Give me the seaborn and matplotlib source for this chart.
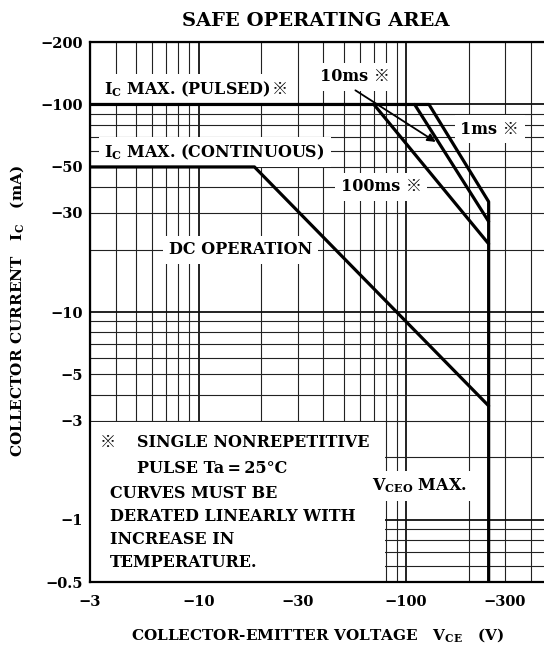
import numpy as np
import pandas as pd
import matplotlib
matplotlib.use('Agg')
import matplotlib.pyplot as plt
import matplotlib.ticker as mticker
from matplotlib.patches import Rectangle
import seaborn as sns

# SOA boundaries, magnitudes only (V in volts, I in mA)
v_1ms = [3, 129, 250, 250]
i_1ms = [100, 100, 34, 0.5]
v_10ms = [110, 250]
i_10ms = [100, 27.3]
v_100ms = [70, 250]
i_100ms = [100, 21.3]
v_dc = [3, 18.6, 250]
i_dc = [50, 50, 3.53]

x_ticks = [3, 10, 30, 100, 300]
y_ticks = [0.5, 1, 3, 5, 10, 30, 50, 100, 200]

note_lines = ['CURVES MUST BE', 'DERATED LINEARLY WITH', 'INCREASE IN', 'TEMPERATURE.']

# long table for seaborn
df = pd.concat([
    pd.DataFrame({'v': v_1ms, 'i': i_1ms, 'curve': '1ms'}),
    pd.DataFrame({'v': v_10ms, 'i': i_10ms, 'curve': '10ms'}),
    pd.DataFrame({'v': v_100ms, 'i': i_100ms, 'curve': '100ms'}),
    pd.DataFrame({'v': v_dc, 'i': i_dc, 'curve': 'dc'}),
], ignore_index=True)

sns.set_style('white')
plt.rcParams['font.family'] = ['DejaVu Serif', 'Noto Sans CJK JP']
plt.rcParams['font.weight'] = 'bold'
plt.rcParams['mathtext.fontset'] = 'dejavuserif'
plt.rcParams['mathtext.default'] = 'bf'
plt.rcParams['text.color'] = 'black'
plt.rcParams['xtick.color'] = 'black'
plt.rcParams['ytick.color'] = 'black'

W, H = 544, 648
fig = plt.figure(figsize=(W / 100, H / 100), dpi=100)
ax = fig.add_axes([90 / W, 1 - 582 / H, 1 - 90 / W, 540 / H])

sns.lineplot(data=df, x='v', y='i', units='curve', estimator=None, sort=False,
             color='black', lw=2.3, zorder=4, ax=ax, legend=False)

ax.set_xscale('log')
ax.set_yscale('log')
ax.set_xlim(3, 462)
ax.set_ylim(0.5, 200)

for axis in (ax.xaxis, ax.yaxis):
    axis.set_major_locator(mticker.LogLocator(base=10, numticks=10))
    axis.set_minor_locator(mticker.LogLocator(base=10, subs=np.arange(2, 10), numticks=20))

def make_fmt(vals):
    def f(v, pos):
        for t in vals:
            if np.isclose(v, t):
                return '\u2212' + f'{t:g}'
        return ''
    return mticker.FuncFormatter(f)

for axis, vals in ((ax.xaxis, x_ticks), (ax.yaxis, y_ticks)):
    axis.set_major_formatter(make_fmt(vals))
    axis.set_minor_formatter(make_fmt(vals))

ax.set_axisbelow(True)
ax.grid(True, which='major', color='#111111', lw=1.3)
ax.grid(True, which='minor', color='#222222', lw=0.8)
ax.tick_params(which='both', length=0, labelsize=10.5)
ax.tick_params(axis='x', which='both', pad=9)
ax.tick_params(axis='y', which='both', pad=5)
ax.set_xlabel('')
ax.set_ylabel('')

for s in ('top', 'left', 'bottom'):
    ax.spines[s].set_color('black')
    ax.spines[s].set_linewidth(1.6)
ax.spines['right'].set_visible(False)

# white panel behind the note
ax.add_patch(Rectangle((3, 0.5), 79 - 3, 2.96 - 0.5, facecolor='white',
                       edgecolor='none', zorder=1.5))

box = dict(boxstyle='square,pad=0.35', fc='white', ec='none')
fs = 11.5
ax.text(3.5, 118.6, r'I$_{\mathbf{C}}$ MAX. (PULSED)', ha='left', va='center', fontsize=fs, bbox=box)
ax.text(24.6, 118.6, '※', ha='center', va='center', fontsize=fs,
        bbox=dict(boxstyle='square,pad=0.1', fc='white', ec='none'))
ax.text(3.52, 59.0, r'I$_{\mathbf{C}}$ MAX. (CONTINUOUS)', ha='left', va='center', fontsize=fs, bbox=box)
ax.text(7.2, 19.9, 'DC OPERATION', ha='left', va='center', fontsize=fs, bbox=box)
ax.text(56.6, 136, '10ms ※', ha='center', va='center', fontsize=fs, bbox=box)
ax.text(253, 76.2, '1ms ※', ha='center', va='center', fontsize=fs, bbox=box)
ax.text(75.8, 40.1, '100ms ※', ha='center', va='center', fontsize=fs, bbox=box)
ax.text(68.7, 1.45, r'V$_{\mathbf{CEO}}$ MAX.', ha='left', va='center', fontsize=fs, bbox=box)

ax.annotate('', xy=(139, 66), xytext=(57, 117), zorder=5,
            arrowprops=dict(arrowstyle='-|>', color='black', lw=1.3,
                            mutation_scale=12, shrinkA=0, shrinkB=0))

# note text
ax.text(3.35, 2.34, '※', ha='left', va='center', fontsize=fs, zorder=3)
ax.text(5.05, 2.34, 'SINGLE NONREPETITIVE', ha='left', va='center', fontsize=fs, zorder=3)
ax.text(5.05, 1.77, 'PULSE Ta\u2009=\u200925°C', ha='left', va='center', fontsize=fs, zorder=3)
ny = [1.34, 1.03, 0.80, 0.62]
for y, t in zip(ny, note_lines):
    ax.text(3.75, y, t, ha='left', va='center', fontsize=fs, zorder=3)

fig.text(316 / W, 1 - 21 / H, 'SAFE OPERATING AREA', ha='center', va='center', fontsize=14)
fig.text(318 / W, 1 - 635 / H, r'COLLECTOR-EMITTER VOLTAGE   V$_{\mathbf{CE}}$   (V)',
         ha='center', va='center', fontsize=11)
fig.text(17 / W, 1 - 311 / H, r'COLLECTOR CURRENT   I$_{\mathbf{C}}$   (mA)',
         ha='center', va='center', rotation=90, fontsize=11)

fig.savefig('out.png', dpi=100)
